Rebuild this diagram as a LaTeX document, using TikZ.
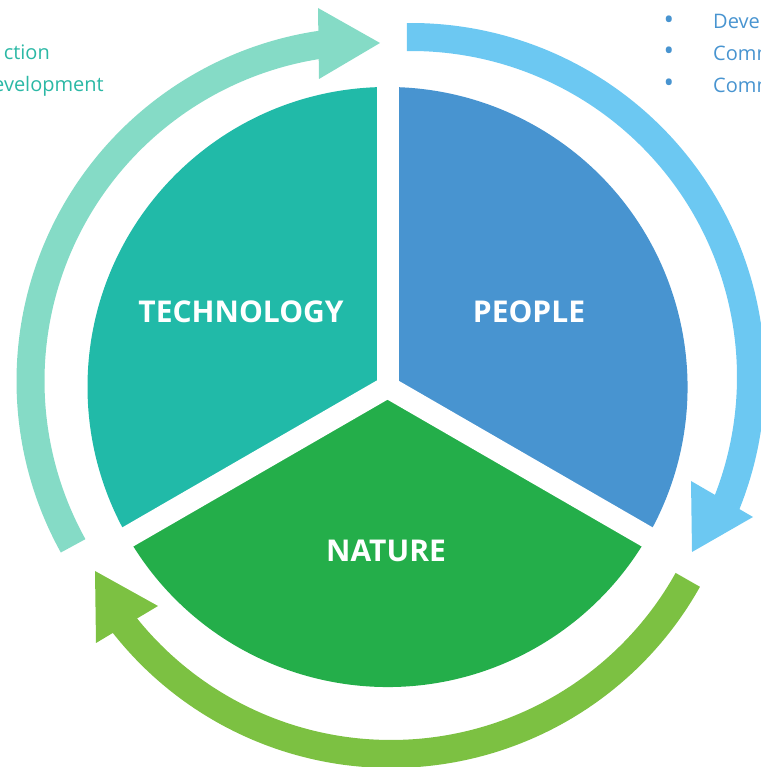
\documentclass[tikz,border=0pt]{standalone}
\usepackage{fontspec}
\setmainfont{Open Sans}
\definecolor{techc}{RGB}{33,186,168}
\definecolor{peoplec}{RGB}{72,148,208}
\definecolor{naturec}{RGB}{36,174,74}
\definecolor{ringteal}{RGB}{133,219,198}
\definecolor{ringblue}{RGB}{108,200,242}
\definecolor{ringgreen}{RGB}{124,193,66}
\definecolor{txtteal}{RGB}{43,184,165}
\definecolor{txtblue}{RGB}{72,148,208}
\begin{document}
\begin{tikzpicture}[x=1pt,y=1pt,
  gapline/.style={white,line width=22pt,line cap=round},
  ringline/.style={line width=28pt},
  seclabel/.style={text=white,font=\bfseries\fontsize{30}{35}\selectfont},
  sidetext/.style={font=\fontsize{20}{24}\selectfont,inner sep=0pt},
  bullettext/.style={font=\fontsize{28}{30}\selectfont,inner sep=0pt,text=txtblue}]
\useasboundingbox (0,0) rectangle (760,767);
\coordinate (O) at (387.5,380);
% sectors
\fill[techc] (O) -- ++(90:300pt) arc[start angle=90,end angle=210,radius=300pt] -- cycle;
\fill[peoplec] (O) -- ++(-30:300pt) arc[start angle=-30,end angle=90,radius=300pt] -- cycle;
\fill[naturec] (O) -- ++(210:300pt) arc[start angle=210,end angle=330,radius=300pt] -- cycle;
\foreach \a in {90,210,330} \draw[gapline] (O) -- ++(\a:310pt);
% ring arrows
\coordinate (Ct) at (370.5,386);
\coordinate (Cb) at (411,390);
\coordinate (Cg) at (391,353);
\draw[ringline,ringteal] ([shift={(209:340pt)}]Ct) arc[start angle=209,end angle=97,radius=340pt];
\fill[ringteal] (318,759) -- (380,724) -- (319,688) -- cycle;
\draw[ringline,ringblue] ([shift={(90.7:340pt)}]Cb) arc[start angle=90.7,end angle=-23,radius=340pt];
\fill[ringblue] (691,286) -- (753,250) -- (692,215) -- cycle;
\draw[ringline,ringgreen] ([shift={(-29.2:340pt)}]Cg) arc[start angle=-29.2,end angle=-143.4,radius=340pt];
\fill[ringgreen] (95,196) -- (158,161) -- (96,124) -- cycle;
% labels
\node[seclabel] (tech) at (241,455) {TECHNOLOGY};
\node[seclabel] (people) at (529,455) {PEOPLE};
\node[seclabel] (nature) at (386,216) {NATURE};
% side texts
\node[sidetext,text=txtteal,anchor=base east] (l1) at (50,707) {ction};
\node[sidetext,text=txtteal,anchor=base east] (l2) at (104,675) {evelopment};
\node[bullettext,anchor=center] (b1) at (669,744) {•};
\node[bullettext,anchor=center] (b2) at (669,713) {•};
\node[bullettext,anchor=center] (b3) at (669,681) {•};
\node[sidetext,text=txtblue,anchor=base west] (r1) at (713,738) {Deve};
\node[sidetext,text=txtblue,anchor=base west] (r2) at (713,706) {Comm};
\node[sidetext,text=txtblue,anchor=base west] (r3) at (713,674) {Comm};
\end{tikzpicture}
\end{document}
